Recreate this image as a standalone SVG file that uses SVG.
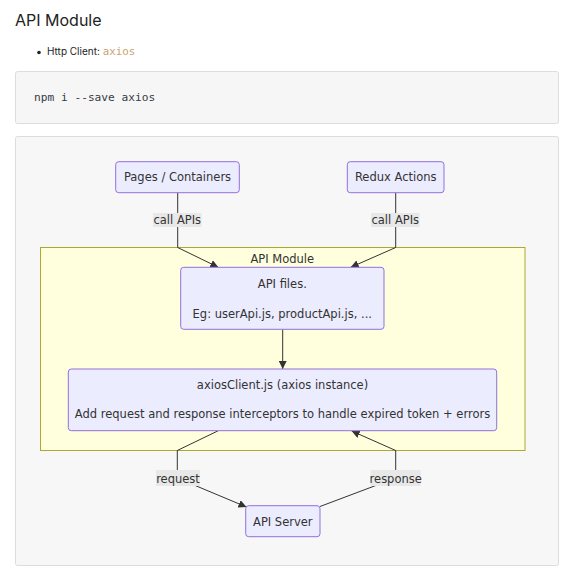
<svg xmlns="http://www.w3.org/2000/svg" width="570" height="574" viewBox="0 0 570 574">
<style>
.node rect{fill:#ECECFF;stroke:#9370DB;stroke-width:1}
.t{font-family:"DejaVu Sans",Verdana,sans-serif;font-size:11.5px;fill:#333;text-anchor:middle}
.edge{fill:none;stroke:#333;stroke-width:1}
.lbl{fill:#e8e8e8}
.mono{font-family:"DejaVu Sans Mono","Liberation Mono",monospace}
</style>
<defs>
<marker id="arr" viewBox="0 0 10 10" refX="10" refY="5" markerWidth="8" markerHeight="8" markerUnits="userSpaceOnUse" orient="auto">
<path d="M0,0 L10,5 L0,10 z" fill="#333"/>
</marker>
</defs>
<rect width="570" height="574" fill="#fff"/>
<text x="15" y="26" font-family="Inter,'Liberation Sans',sans-serif" font-size="16" fill="#222">API Module</text>
<circle cx="39" cy="52.5" r="1.8" fill="#222"/>
<text x="47" y="55" font-family="Inter,'Liberation Sans',sans-serif" font-size="10" fill="#222">Http Client: <tspan class="mono" font-size="10.8" fill="#c9a36e">axios</tspan></text>
<rect x="15.5" y="71.5" width="543" height="52" rx="2" fill="#f6f6f6" stroke="#ddd"/>
<text x="34" y="101" class="mono" font-size="11.2" fill="#383a42">npm i --save axios</text>
<rect x="15.5" y="136.5" width="543" height="429" rx="2" fill="#f7f7f7" stroke="#ddd"/>

<g id="cluster-api-module">
<rect x="40.5" y="247.5" width="484.5" height="203" fill="#ffffde" stroke="#aaaa33"/>
<text class="t" x="282.3" y="262.5">API Module</text>
</g>

<g id="connectors">
<path class="edge" d="M177.7,192.7 L177.7,247.5 L218.3,267.3" marker-end="url(#arr)"/>
<path class="edge" d="M395.7,192.7 L395.7,247.5 L350.7,267.3" marker-end="url(#arr)"/>
<path class="edge" d="M282.7,329.3 L282.7,369" marker-end="url(#arr)"/>
<path class="edge" d="M218.3,430.7 L177.3,450.5 L177.3,478 L246.5,507" marker-end="url(#arr)"/>
<path class="edge" d="M320,506.5 L395.7,478 L395.7,450.5 L351.7,431" marker-end="url(#arr)"/>
<rect class="lbl" x="153" y="213" width="48.5" height="14"/>
<text class="t" x="177.3" y="224">call APIs</text>
<rect class="lbl" x="371" y="213" width="48.5" height="14"/>
<text class="t" x="395.3" y="224">call APIs</text>
<rect class="lbl" x="156" y="470" width="44" height="16"/>
<text class="t" x="178" y="482.7">request</text>
<rect class="lbl" x="370.7" y="470" width="50" height="16"/>
<text class="t" x="395.7" y="482.7">response</text>
</g>

<g id="node-pages" class="node">
<rect x="115.7" y="161.7" width="123.6" height="31" rx="3"/>
<text class="t" x="177.5" y="180.7">Pages / Containers</text>
</g>
<g id="node-redux" class="node">
<rect x="347.3" y="161.7" width="96.7" height="31" rx="3"/>
<text class="t" x="395.7" y="180.7">Redux Actions</text>
</g>
<g id="node-apifiles" class="node">
<rect x="180.7" y="267.3" width="203.3" height="62" rx="3"/>
<text class="t" x="282.3" y="287.7">API files.</text>
<text class="t" x="282.3" y="317.7">Eg: userApi.js, productApi.js, ...</text>
</g>
<g id="node-axiosclient" class="node">
<rect x="68.3" y="369" width="428.4" height="61.7" rx="3"/>
<text class="t" x="282.5" y="389">axiosClient.js (axios instance)</text>
<text class="t" x="282.5" y="418.3">Add request and response interceptors to handle expired token + errors</text>
</g>
<g id="node-apiserver" class="node">
<rect x="245.7" y="505.7" width="74.3" height="31" rx="3"/>
<text class="t" x="282.8" y="526">API Server</text>
</g>
</svg>
